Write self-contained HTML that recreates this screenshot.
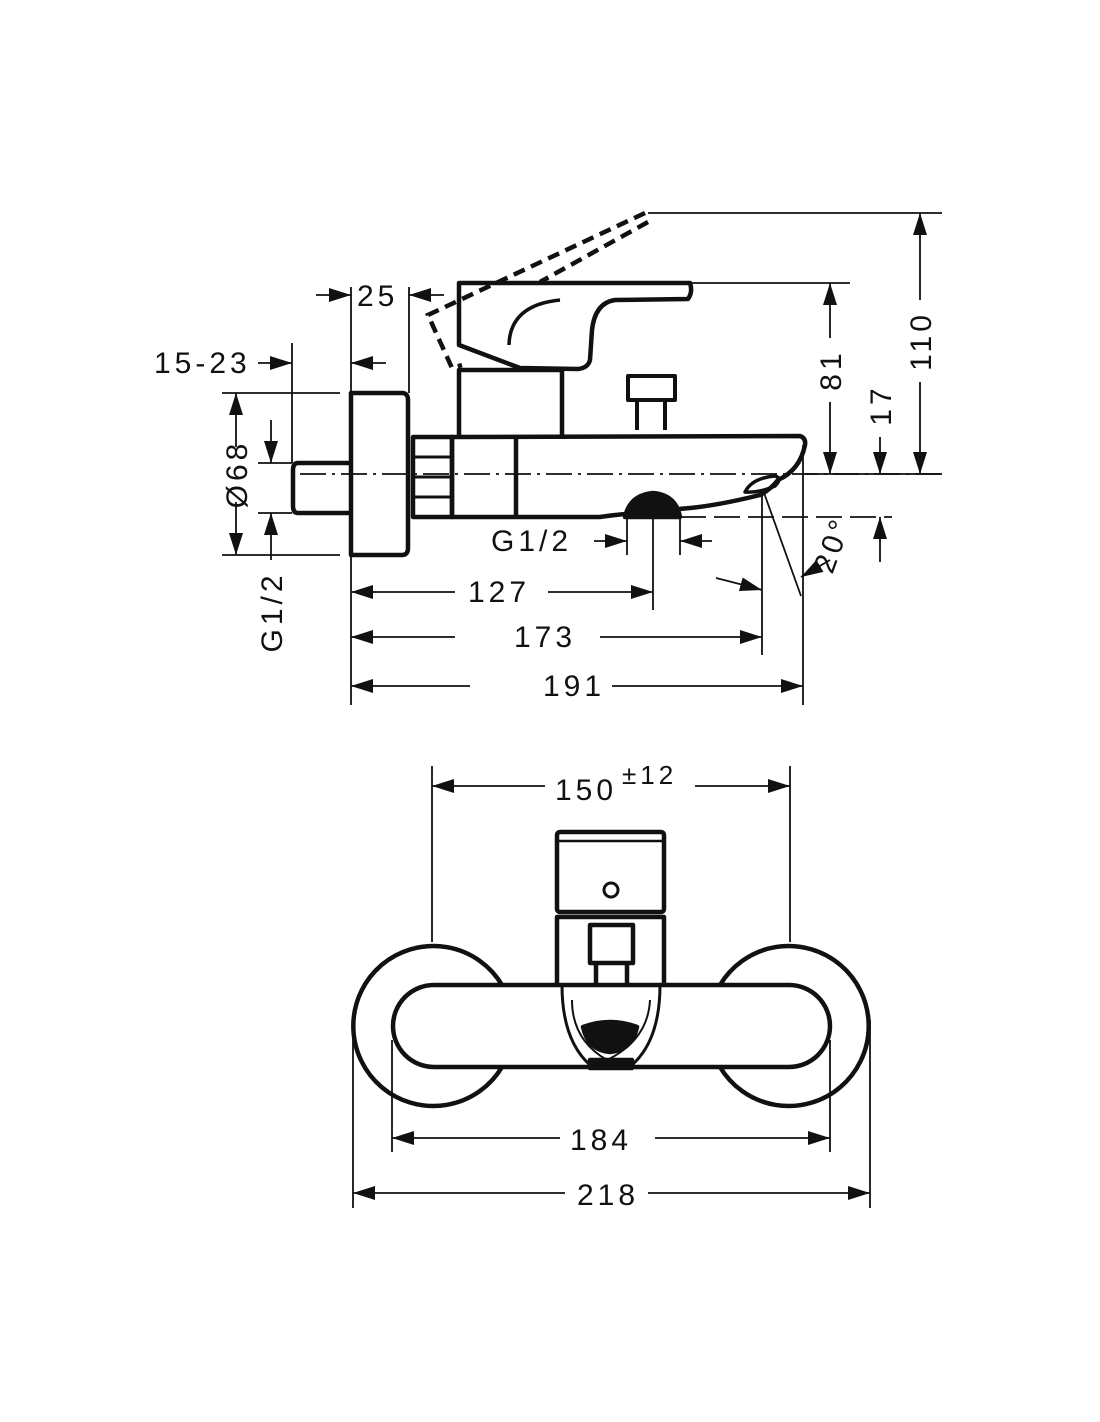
<!DOCTYPE html>
<html><head><meta charset="utf-8"><style>
html,body{margin:0;padding:0;background:#fff;}
svg{display:block;}
text{font-family:"Liberation Sans",sans-serif;font-size:30px;fill:#111;letter-spacing:4px;}
</style></head><body>
<svg width="1100" height="1422" viewBox="0 0 1100 1422" xmlns="http://www.w3.org/2000/svg">
<defs>
<marker id="a" markerUnits="userSpaceOnUse" markerWidth="24" markerHeight="16" refX="22" refY="7" orient="auto">
<path d="M0,0 L22,7 L0,14 z" fill="#111"/>
</marker>
</defs>
<g stroke="#111" fill="none">
<g stroke-width="1.8">
<line x1="648" y1="213" x2="942" y2="213"/>
<line x1="692" y1="283" x2="850" y2="283"/>
<line x1="805" y1="474" x2="942" y2="474"/>
<line x1="351" y1="287" x2="351" y2="705"/>
<line x1="409" y1="287" x2="409" y2="393"/>
<line x1="292" y1="343" x2="292" y2="463"/>
<line x1="222" y1="393" x2="340" y2="393"/>
<line x1="222" y1="555" x2="340" y2="555"/>
<line x1="258" y1="463" x2="292" y2="463"/>
<line x1="258" y1="513" x2="292" y2="513"/>
<line x1="627" y1="517" x2="627" y2="555"/>
<line x1="680" y1="517" x2="680" y2="555"/>
<line x1="653" y1="517" x2="653" y2="610"/>
<line x1="762" y1="492" x2="762" y2="655"/>
<line x1="803" y1="445" x2="803" y2="705"/>
<line x1="763" y1="490" x2="801" y2="596"/>
<line x1="300" y1="474" x2="940" y2="474" stroke-dasharray="26,6,3,6"/>
<line x1="680" y1="517" x2="892" y2="517" stroke-dasharray="26,8"/>
</g>
<g stroke-width="1.8" marker-end="url(#a)">
<line x1="316" y1="295" x2="351" y2="295"/>
<line x1="444" y1="295" x2="409" y2="295"/>
<line x1="258" y1="363" x2="292" y2="363"/>
<line x1="386" y1="363" x2="351" y2="363"/>
<line x1="236" y1="447" x2="236" y2="393"/>
<line x1="236" y1="502" x2="236" y2="555"/>
<line x1="271" y1="420" x2="271" y2="463"/>
<line x1="271" y1="560" x2="271" y2="513"/>
<line x1="594" y1="541" x2="627" y2="541"/>
<line x1="712" y1="541" x2="680" y2="541"/>
<line x1="455" y1="592" x2="351" y2="592"/>
<line x1="548" y1="592" x2="653" y2="592"/>
<line x1="455" y1="637" x2="351" y2="637"/>
<line x1="600" y1="637" x2="762" y2="637"/>
<line x1="470" y1="686" x2="351" y2="686"/>
<line x1="612" y1="686" x2="803" y2="686"/>
<line x1="830" y1="338" x2="830" y2="283"/>
<line x1="830" y1="402" x2="830" y2="474"/>
<line x1="880" y1="437" x2="880" y2="474"/>
<line x1="880" y1="562" x2="880" y2="517"/>
<line x1="920" y1="300" x2="920" y2="213"/>
<line x1="920" y1="382" x2="920" y2="474"/>
<path d="M716,578 Q740,584 762,590"/>
<line x1="830" y1="560" x2="801" y2="577"/>
</g>
<g stroke-width="4.5" stroke-linejoin="round">
<path d="M351,393 L402,393 Q408,393 408,400 L408,548 Q408,555 402,555 L351,555 Z"/>
<path d="M351,463 L298,463 Q293,463 293,470 L293,506 Q293,513 298,513 L351,513"/>
<path d="M413,437 L452,437 L452,517 L413,517 Z"/>
<line x1="413" y1="457" x2="452" y2="457" stroke-width="3"/>
<line x1="413" y1="477" x2="452" y2="477" stroke-width="3"/>
<line x1="413" y1="497" x2="452" y2="497" stroke-width="3"/>
<path d="M452,437 L800,436 Q806,438 805,445 Q800,470 778,480 Q770,490 760,495 Q720,505 690,508 Q620,514 600,517 L452,517 Z"/>
<line x1="516" y1="437" x2="516" y2="517"/>
<path d="M745,492 Q752,478 775,476 Q783,478 775,486 Q760,493 745,492 Z" stroke-width="3.5"/>
<path d="M625,517 Q630,495 653,493 Q676,495 680,517 Z" fill="#111"/>
<path d="M459,437 L459,370 L562,370 L562,437"/>
<path d="M459,283 L690,283 Q693,292 688,299 L615,300 Q595,303 592,330 L590,360 Q588,368 578,369 L520,368 L459,345 Z"/>
<path d="M509,345 Q510,305 560,300" stroke-width="3.5"/>
<path d="M628,400 L628,376 L675,376 L675,400 Z" stroke-width="4"/>
<path d="M637,400 L637,430 M665,400 L665,430" stroke-width="4"/>
</g>
<path d="M645,213 L428,315 L452,368 L462,365 M648,222 L540,282" stroke-width="4.5" stroke-dasharray="12,7"/>

<g stroke-width="1.8">
<line x1="432" y1="766" x2="432" y2="942"/>
<line x1="790" y1="766" x2="790" y2="942"/>
<line x1="392" y1="1040" x2="392" y2="1152"/>
<line x1="830" y1="1040" x2="830" y2="1152"/>
<line x1="353" y1="1020" x2="353" y2="1208"/>
<line x1="870" y1="1020" x2="870" y2="1208"/>
</g>
<g stroke-width="1.8" marker-end="url(#a)">
<line x1="545" y1="786" x2="432" y2="786"/>
<line x1="695" y1="786" x2="790" y2="786"/>
<line x1="560" y1="1138" x2="392" y2="1138"/>
<line x1="655" y1="1138" x2="830" y2="1138"/>
<line x1="565" y1="1193" x2="353" y2="1193"/>
<line x1="648" y1="1193" x2="870" y2="1193"/>
</g>
<g stroke-width="4.5" stroke-linejoin="round">
<path d="M502,985 A80,80 0 1 0 502,1067"/>
<path d="M720,985 A80,80 0 1 1 720,1067"/>
<rect x="393" y="985" width="437" height="82" rx="41"/>
<rect x="557" y="832" width="107" height="80" rx="3"/>
<line x1="557" y1="841" x2="664" y2="841" stroke-width="2.5"/>
<path d="M557,985 L557,917 L664,917 L664,985"/>
<path d="M590,925 L633,925 L633,963 L590,963 Z M596,963 L596,985 M627,963 L627,985"/>
<circle cx="611" cy="890" r="7" stroke-width="3"/>
<path d="M562,985 Q562,1040 590,1065 L632,1065 Q660,1040 660,985" stroke-width="3"/>
<path d="M572,1000 Q572,1040 607,1060 Q648,1040 650,1000" stroke-width="2"/>
<path d="M583,1027 Q610,1017 637,1027 Q632,1050 610,1052 Q588,1050 583,1027 Z" fill="#111"/>
<rect x="590" y="1060" width="42" height="8" fill="#111"/>
</g>
</g>
<text x="357" y="306">25</text>
<text x="154" y="373">15-23</text>
<text x="491" y="551">G1/2</text>
<text x="468" y="602">127</text>
<text x="514" y="647">173</text>
<text x="543" y="696">191</text>
<text transform="translate(247,474) rotate(-90)" text-anchor="middle">Ø68</text>
<text transform="translate(282,612) rotate(-90)" text-anchor="middle">G1/2</text>
<text transform="translate(841,370) rotate(-90)" text-anchor="middle">81</text>
<text transform="translate(891,405) rotate(-90)" text-anchor="middle">17</text>
<text transform="translate(931,341) rotate(-90)" text-anchor="middle">110</text>
<text transform="translate(842,548) rotate(-70)" text-anchor="middle">20°</text>
<text x="555" y="800">150</text>
<text x="622" y="784" style="font-size:26px">±12</text>
<text x="570" y="1150">184</text>
<text x="577" y="1205">218</text>
</svg>
</body></html>
